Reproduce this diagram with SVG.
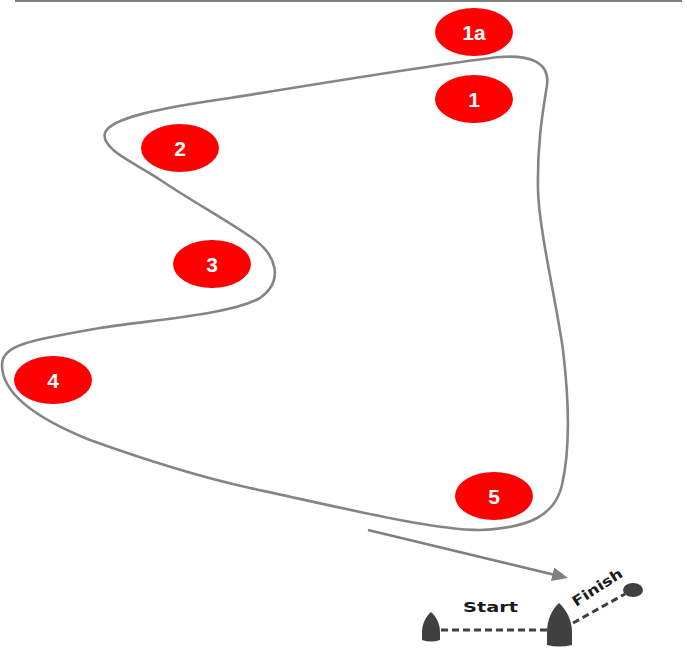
<svg xmlns="http://www.w3.org/2000/svg" width="687" height="663" viewBox="0 0 687 663">
<style>
.mark{fill:#ff0000}
.lbl{fill:#ffffff;font-family:"Liberation Sans",Arial,sans-serif;font-weight:bold;font-size:21px;text-anchor:middle}
.course{fill:none;stroke:#858585;stroke-width:2.6}
.boat{fill:#404040}
.dash{stroke:#404040;stroke-width:3;stroke-dasharray:7 4;fill:none}
.cap{fill:#1a1a1a;font-family:"DejaVu Sans",Verdana,sans-serif;font-weight:bold;font-size:14px}
</style>
<defs>
<marker id="ah" markerUnits="userSpaceOnUse" markerWidth="16" markerHeight="14" refX="6" refY="7" orient="auto">
<path d="M0,0 L16,7 L0,14 Z" fill="#808080"/>
</marker>
</defs>
<rect width="687" height="663" fill="#ffffff"/>
<line x1="15" y1="1" x2="682" y2="1" stroke="#808080" stroke-width="2"/>
<g id="connectors">
<path id="course" class="course" d="M 500 57 C 530 55, 550 62, 547 85 C 544 105, 537 140, 538 190 C 539 230, 556 300, 563 350 C 569 400, 570 450, 562 485 C 555 515, 530 528, 480 530 C 430 530, 330 505, 250 488 C 200 477, 140 458, 90 440 C 40 420, 2 395, 2 365 C 2 345, 30 340, 100 328 C 150 320, 230 315, 260 298 C 285 280, 275 255, 255 240 C 230 222, 190 200, 165 183 C 140 165, 100 150, 105 133 C 110 118, 160 108, 230 98 C 330 82, 450 62, 500 57 Z"/>
<line id="arrow" x1="368" y1="530" x2="558.3" y2="575.7" stroke="#808080" stroke-width="2.5" marker-end="url(#ah)"/>
<line id="startline" class="dash" x1="441" y1="630" x2="547" y2="630"/>
<line id="finishline" class="dash" x1="573" y1="623" x2="625" y2="594"/>
</g>
<g id="mark1a"><ellipse class="mark" cx="474" cy="32" rx="39" ry="24"/><text class="lbl" x="474" y="40">1a</text></g>
<g id="mark1"><ellipse class="mark" cx="474" cy="99" rx="39" ry="24"/><text class="lbl" x="474" y="107">1</text></g>
<g id="mark2"><ellipse class="mark" cx="180" cy="148" rx="39" ry="24"/><text class="lbl" x="180" y="156">2</text></g>
<g id="mark3"><ellipse class="mark" cx="212" cy="264" rx="39" ry="24"/><text class="lbl" x="212" y="272">3</text></g>
<g id="mark4"><ellipse class="mark" cx="53" cy="380" rx="39" ry="24"/><text class="lbl" x="53" y="388">4</text></g>
<g id="mark5"><ellipse class="mark" cx="494" cy="496" rx="39" ry="24"/><text class="lbl" x="494" y="504">5</text></g>
<g id="boatLeft"><path class="boat" d="M 431 612 C 436 616, 440 624, 440 632 L 440 640 Q 431 643 422 640 L 422 632 C 422 624, 426 616, 431 612 Z"/></g>
<g id="boatRight"><path class="boat" d="M 559 603 C 566 609, 572 620, 572 632 L 572 645 Q 559 648 547 645 L 547 632 C 547 620, 552 609, 559 603 Z"/></g>
<g id="finishBuoy"><ellipse class="boat" cx="633" cy="590" rx="10" ry="7"/></g>
<g id="startLabel"><text class="cap" x="463" y="612" textLength="55" lengthAdjust="spacingAndGlyphs">Start</text></g>
<g id="finishLabel"><text class="cap" transform="translate(576,607) rotate(-33)" textLength="57" lengthAdjust="spacingAndGlyphs">Finish</text></g>
</svg>
